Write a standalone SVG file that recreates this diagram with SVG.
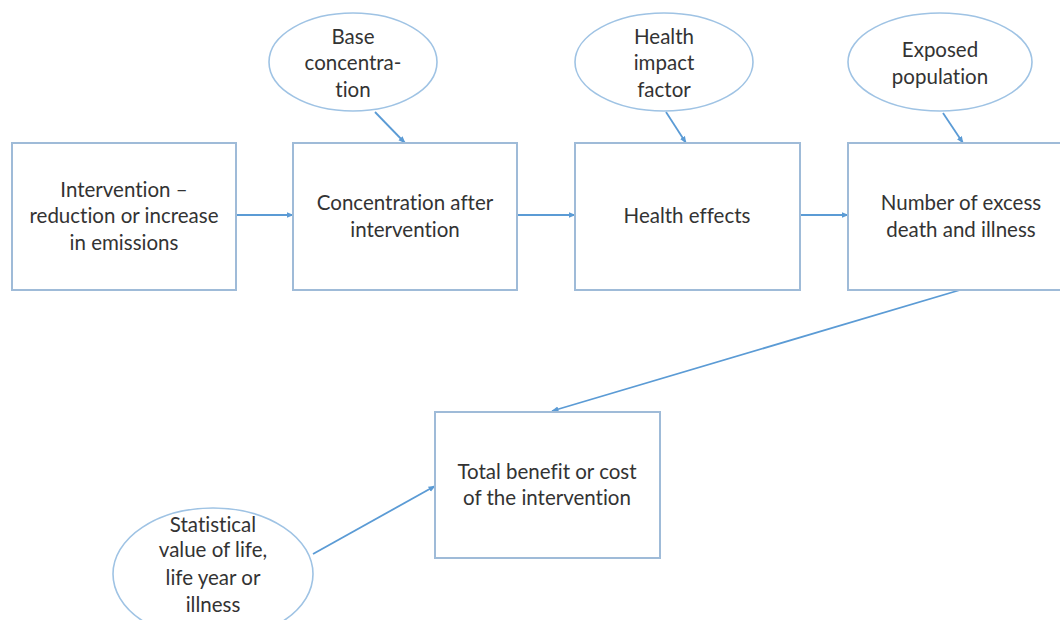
<svg xmlns="http://www.w3.org/2000/svg" width="1060" height="620" viewBox="0 0 1060 620">
  <style>
    .box { fill: #ffffff; stroke: #9fbbd8; stroke-width: 2; }
    .oval { fill: #ffffff; stroke: #9fc3e4; stroke-width: 1.6; }
    .lbl { font-family: "Lato", "Open Sans", "Liberation Sans", sans-serif; font-size: 20.5px; fill: #333333; text-anchor: middle; font-variant-ligatures: none; }
    .link { stroke: #5b9bd5; stroke-width: 1.8; fill: none; marker-end: url(#tip); }
  </style>
  <defs>
    <marker id="tip" viewBox="0 0 10 10" refX="9" refY="5" markerWidth="4" markerHeight="4" orient="auto" markerUnits="strokeWidth">
      <path d="M0,1 L10,5 L0,9 z" fill="#5b9bd5"/>
    </marker>
  </defs>
  <rect width="1060" height="620" fill="#ffffff"/>

  <g id="connectors">
    <line class="link" x1="236" y1="215" x2="293" y2="215"/>
    <line class="link" x1="517" y1="215" x2="575" y2="215"/>
    <line class="link" x1="800" y1="215" x2="848" y2="215"/>
    <line class="link" x1="375" y1="112" x2="405" y2="143"/>
    <line class="link" x1="666" y1="112" x2="686" y2="143"/>
    <line class="link" x1="943" y1="113" x2="963" y2="143"/>
    <line class="link" x1="960" y1="290" x2="552" y2="411"/>
    <line class="link" x1="313" y1="554" x2="435" y2="486"/>
  </g>

  <g id="intervention">
    <rect class="box" x="12" y="143" width="224" height="147"/>
    <text class="lbl" x="124" y="197">Intervention –</text>
    <text class="lbl" x="124" y="223">reduction or increase</text>
    <text class="lbl" x="124" y="250">in emissions</text>
  </g>

  <g id="concentration">
    <rect class="box" x="293" y="143" width="224" height="147"/>
    <text class="lbl" x="405" y="210">Concentration after</text>
    <text class="lbl" x="405" y="237">intervention</text>
  </g>

  <g id="health-effects">
    <rect class="box" x="575" y="143" width="225" height="147"/>
    <text class="lbl" x="687" y="223">Health effects</text>
  </g>

  <g id="excess-cases">
    <rect class="box" x="848" y="143" width="226" height="147"/>
    <text class="lbl" x="961" y="210">Number of excess</text>
    <text class="lbl" x="961" y="237">death and illness</text>
  </g>

  <g id="total">
    <rect class="box" x="435" y="412" width="225" height="146"/>
    <text class="lbl" x="547" y="479">Total benefit or cost</text>
    <text class="lbl" x="547" y="505">of the intervention</text>
  </g>

  <g id="base-concentration">
    <ellipse class="oval" cx="353" cy="62" rx="84" ry="49"/>
    <text class="lbl" x="353" y="44">Base</text>
    <text class="lbl" x="353" y="70">concentra-</text>
    <text class="lbl" x="353" y="97">tion</text>
  </g>

  <g id="impact-factor">
    <ellipse class="oval" cx="664" cy="62" rx="89" ry="49"/>
    <text class="lbl" x="664" y="44">Health</text>
    <text class="lbl" x="664" y="70">impact</text>
    <text class="lbl" x="664" y="97">factor</text>
  </g>

  <g id="exposed-population">
    <ellipse class="oval" cx="940" cy="62" rx="92" ry="49"/>
    <text class="lbl" x="940" y="57">Exposed</text>
    <text class="lbl" x="940" y="84">population</text>
  </g>

  <g id="value-of-life">
    <ellipse class="oval" cx="213" cy="574" rx="100" ry="66"/>
    <text class="lbl" x="213" y="532">Statistical</text>
    <text class="lbl" x="213" y="557">value of life,</text>
    <text class="lbl" x="213" y="585">life year or</text>
    <text class="lbl" x="213" y="612">illness</text>
  </g>
</svg>
